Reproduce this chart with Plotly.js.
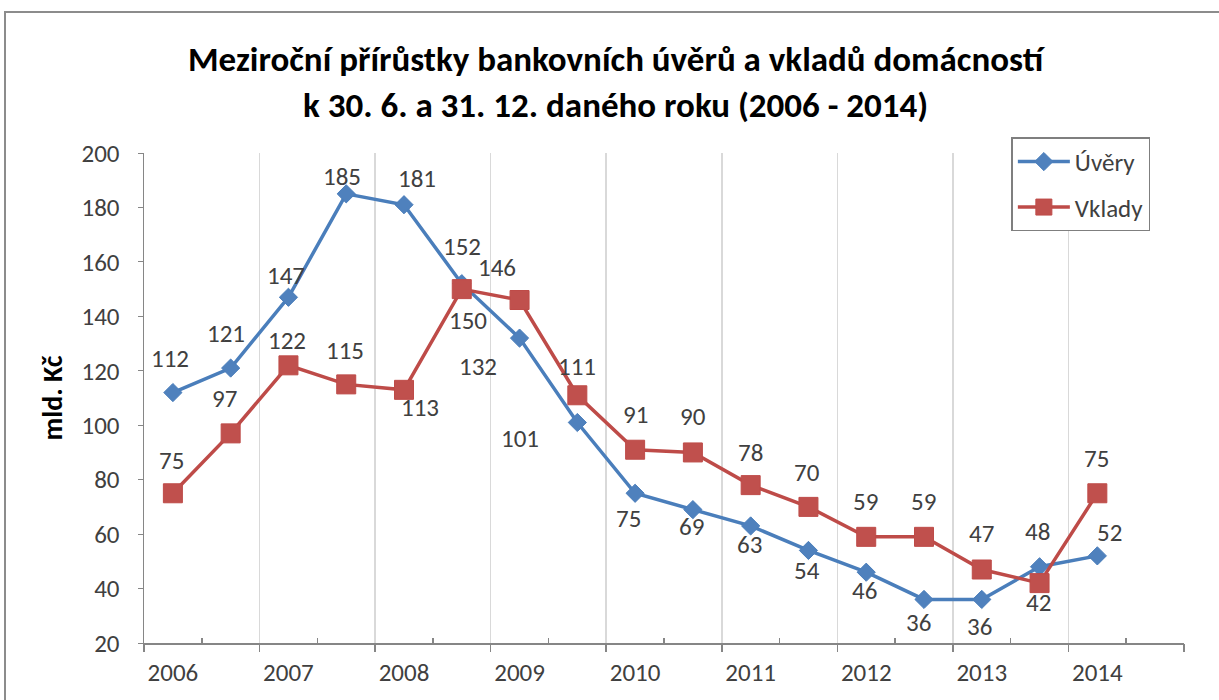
<!DOCTYPE html>
<html>
<head>
<meta charset="utf-8">
<script src="https://cdn.plot.ly/plotly-3.0.1.min.js"></script>
<style>
  html, body { margin: 0; padding: 0; background: #ffffff; }
  #wrap { position: relative; width: 1219px; height: 700px; overflow: hidden; }
  #chart { width: 1219px; height: 700px; }
  #frame { position: absolute; left: 4px; top: 11px; width: 1230px; height: 700px;
           border: 2px solid #8c8c8c; box-sizing: border-box; pointer-events: none; }
</style>
</head>
<body>
<div id="wrap">
  <div id="chart"></div>
  <div id="frame"></div>
</div>
<script>
// ---- data ----
const periods = ['2006 H1','2006 H2','2007 H1','2007 H2','2008 H1','2008 H2','2009 H1','2009 H2',
                 '2010 H1','2010 H2','2011 H1','2011 H2','2012 H1','2012 H2','2013 H1','2013 H2','2014 H1'];
const yearLabels = ['2006','2007','2008','2009','2010','2011','2012','2013','2014'];
const uvery  = [112, 121, 147, 185, 181, 152, 132, 101, 75, 69, 63, 54, 46, 36, 36, 48, 52];
const vklady = [75, 97, 122, 115, 113, 150, 146, 111, 91, 90, 78, 70, 59, 59, 47, 42, 75];
const seriesNames = ['Úvěry', 'Vklady'];

// ---- label offsets (pixels; style only) ----
const uveryLabelDx = [-3, -5, -2, -4, 13, 0, -42, -57, -7, -1, -1, -1, -2, -6, -2, -2, 12];
const uveryLabelDy = [34, 35, 22, 17, 26, 37, -28, -16, -25, -17, -19, -20, -18, -23, -27, 35, 23];
const vkladyLabelDx = [-1, -6, -1, -1, 16, 6, -23, 0, 0, 0, 0, -1, -1, -1, 0, -1, -1];
const vkladyLabelDy = [33, 35, 25, 34, -18, -31, 33, 29, 35, 36, 33, 34, 35, 35, 36, -19, 35];

const idx = periods.map((p, i) => i);
const nSlots = periods.length + 1;           // one empty slot at the end
const yearPos = yearLabels.map((y, i) => 2 * i);
const majorPos = [];
for (let b = 0; b <= nSlots; b += 2) majorPos.push(b - 0.5);
const minorPos = [];
for (let b = 1; b < nSlots; b += 2) minorPos.push(b - 0.5);

const blue = '#4A7EBB', blueM = '#4F81BD';
const red = '#BE4B48', redM = '#C0504D';
const font = 'Calibri, Carlito, "Liberation Sans Narrow", "Liberation Sans", Arial, sans-serif';

const traces = [
  { x: idx, y: uvery, name: seriesNames[0], type: 'scatter', mode: 'lines+markers',
    legendgroup: 'a',
    line: { color: blue, width: 3.5 },
    marker: { symbol: 'diamond', size: 14, color: blueM, line: { color: blue, width: 1 } },
    hoverinfo: 'x+y' },
  { x: idx, y: vklady, name: seriesNames[1], type: 'scatter', mode: 'lines+markers',
    legendgroup: 'b',
    line: { color: red, width: 3.5 },
    marker: { symbol: 'square', size: 19, color: redM, line: { color: red, width: 1 } },
    hoverinfo: 'x+y' },
  { x: [], y: [], xaxis: 'x2', showlegend: false, hoverinfo: 'skip', type: 'scatter' }
];

const annotations = [];
function addLabels(vals, dx, dy) {
  vals.forEach((v, i) => {
    annotations.push({ x: i, y: v, xref: 'x', yref: 'y', text: String(v), showarrow: false,
      xshift: dx[i], yshift: dy[i], font: { family: font, size: 25, color: '#404040' } });
  });
}
addLabels(uvery, uveryLabelDx, uveryLabelDy);
addLabels(vklady, vkladyLabelDx, vkladyLabelDy);

const layout = {
  width: 1219, height: 700,
  paper_bgcolor: '#ffffff', plot_bgcolor: '#ffffff',
  margin: { l: 144, r: 35, t: 153, b: 57 },
  font: { family: font, color: '#404040' },
  title: {
    text: '<b>Meziroční přírůstky bankovních úvěrů a vkladů domácností</b><br><b>k 30. 6. a 31. 12. daného roku (2006 - 2014)</b>',
    font: { family: font, size: 35, color: '#000000' },
    x: 0.505, xanchor: 'center', yref: 'container', y: 0.898, yanchor: 'top'
  },
  showlegend: true,
  legend: {
    x: 0.834, xanchor: 'left', y: 1.032, yanchor: 'top',
    bgcolor: '#ffffff', bordercolor: '#7f7f7f', borderwidth: 1.5,
    font: { family: font, size: 25, color: '#404040' },
    traceorder: 'grouped', tracegroupgap: 10, itemwidth: 52
  },
  xaxis: {
    range: [-0.5, nSlots - 0.5],
    tickmode: 'array', tickvals: yearPos, ticktext: yearLabels,
    ticks: '', showgrid: false, zeroline: false,
    showline: true, linecolor: '#868686', linewidth: 1.5,
    tickfont: { family: font, size: 25, color: '#404040' },
    ticklabelstandoff: 6
  },
  xaxis2: {
    overlaying: 'x', matches: 'x', side: 'bottom',
    range: [-0.5, nSlots - 0.5],
    tickmode: 'array', tickvals: majorPos, showticklabels: false,
    ticks: 'outside', ticklen: 8, tickcolor: '#868686', tickwidth: 1.5,
    showgrid: true, gridcolor: '#D9D9D9', gridwidth: 1.5,
    zeroline: false, showline: false,
    minor: { tickmode: 'array', tickvals: minorPos, ticks: 'inside', ticklen: 5, tickcolor: '#868686', tickwidth: 1.5, showgrid: false }
  },
  yaxis: {
    range: [20, 200], tickmode: 'linear', tick0: 20, dtick: 20,
    showgrid: false, zeroline: false,
    showline: true, linecolor: '#868686', linewidth: 1.5,
    ticks: 'outside', ticklen: 5, tickcolor: '#868686',
    tickfont: { family: font, size: 25, color: '#404040' },
    ticklabelstandoff: 13,
    title: { text: '<b>mld. Kč</b>', font: { family: font, size: 28, color: '#000000' }, standoff: 10 }
  },
  annotations: annotations
};

Plotly.newPlot('chart', traces, layout, { displayModeBar: false, staticPlot: true });
</script>
</body>
</html>
